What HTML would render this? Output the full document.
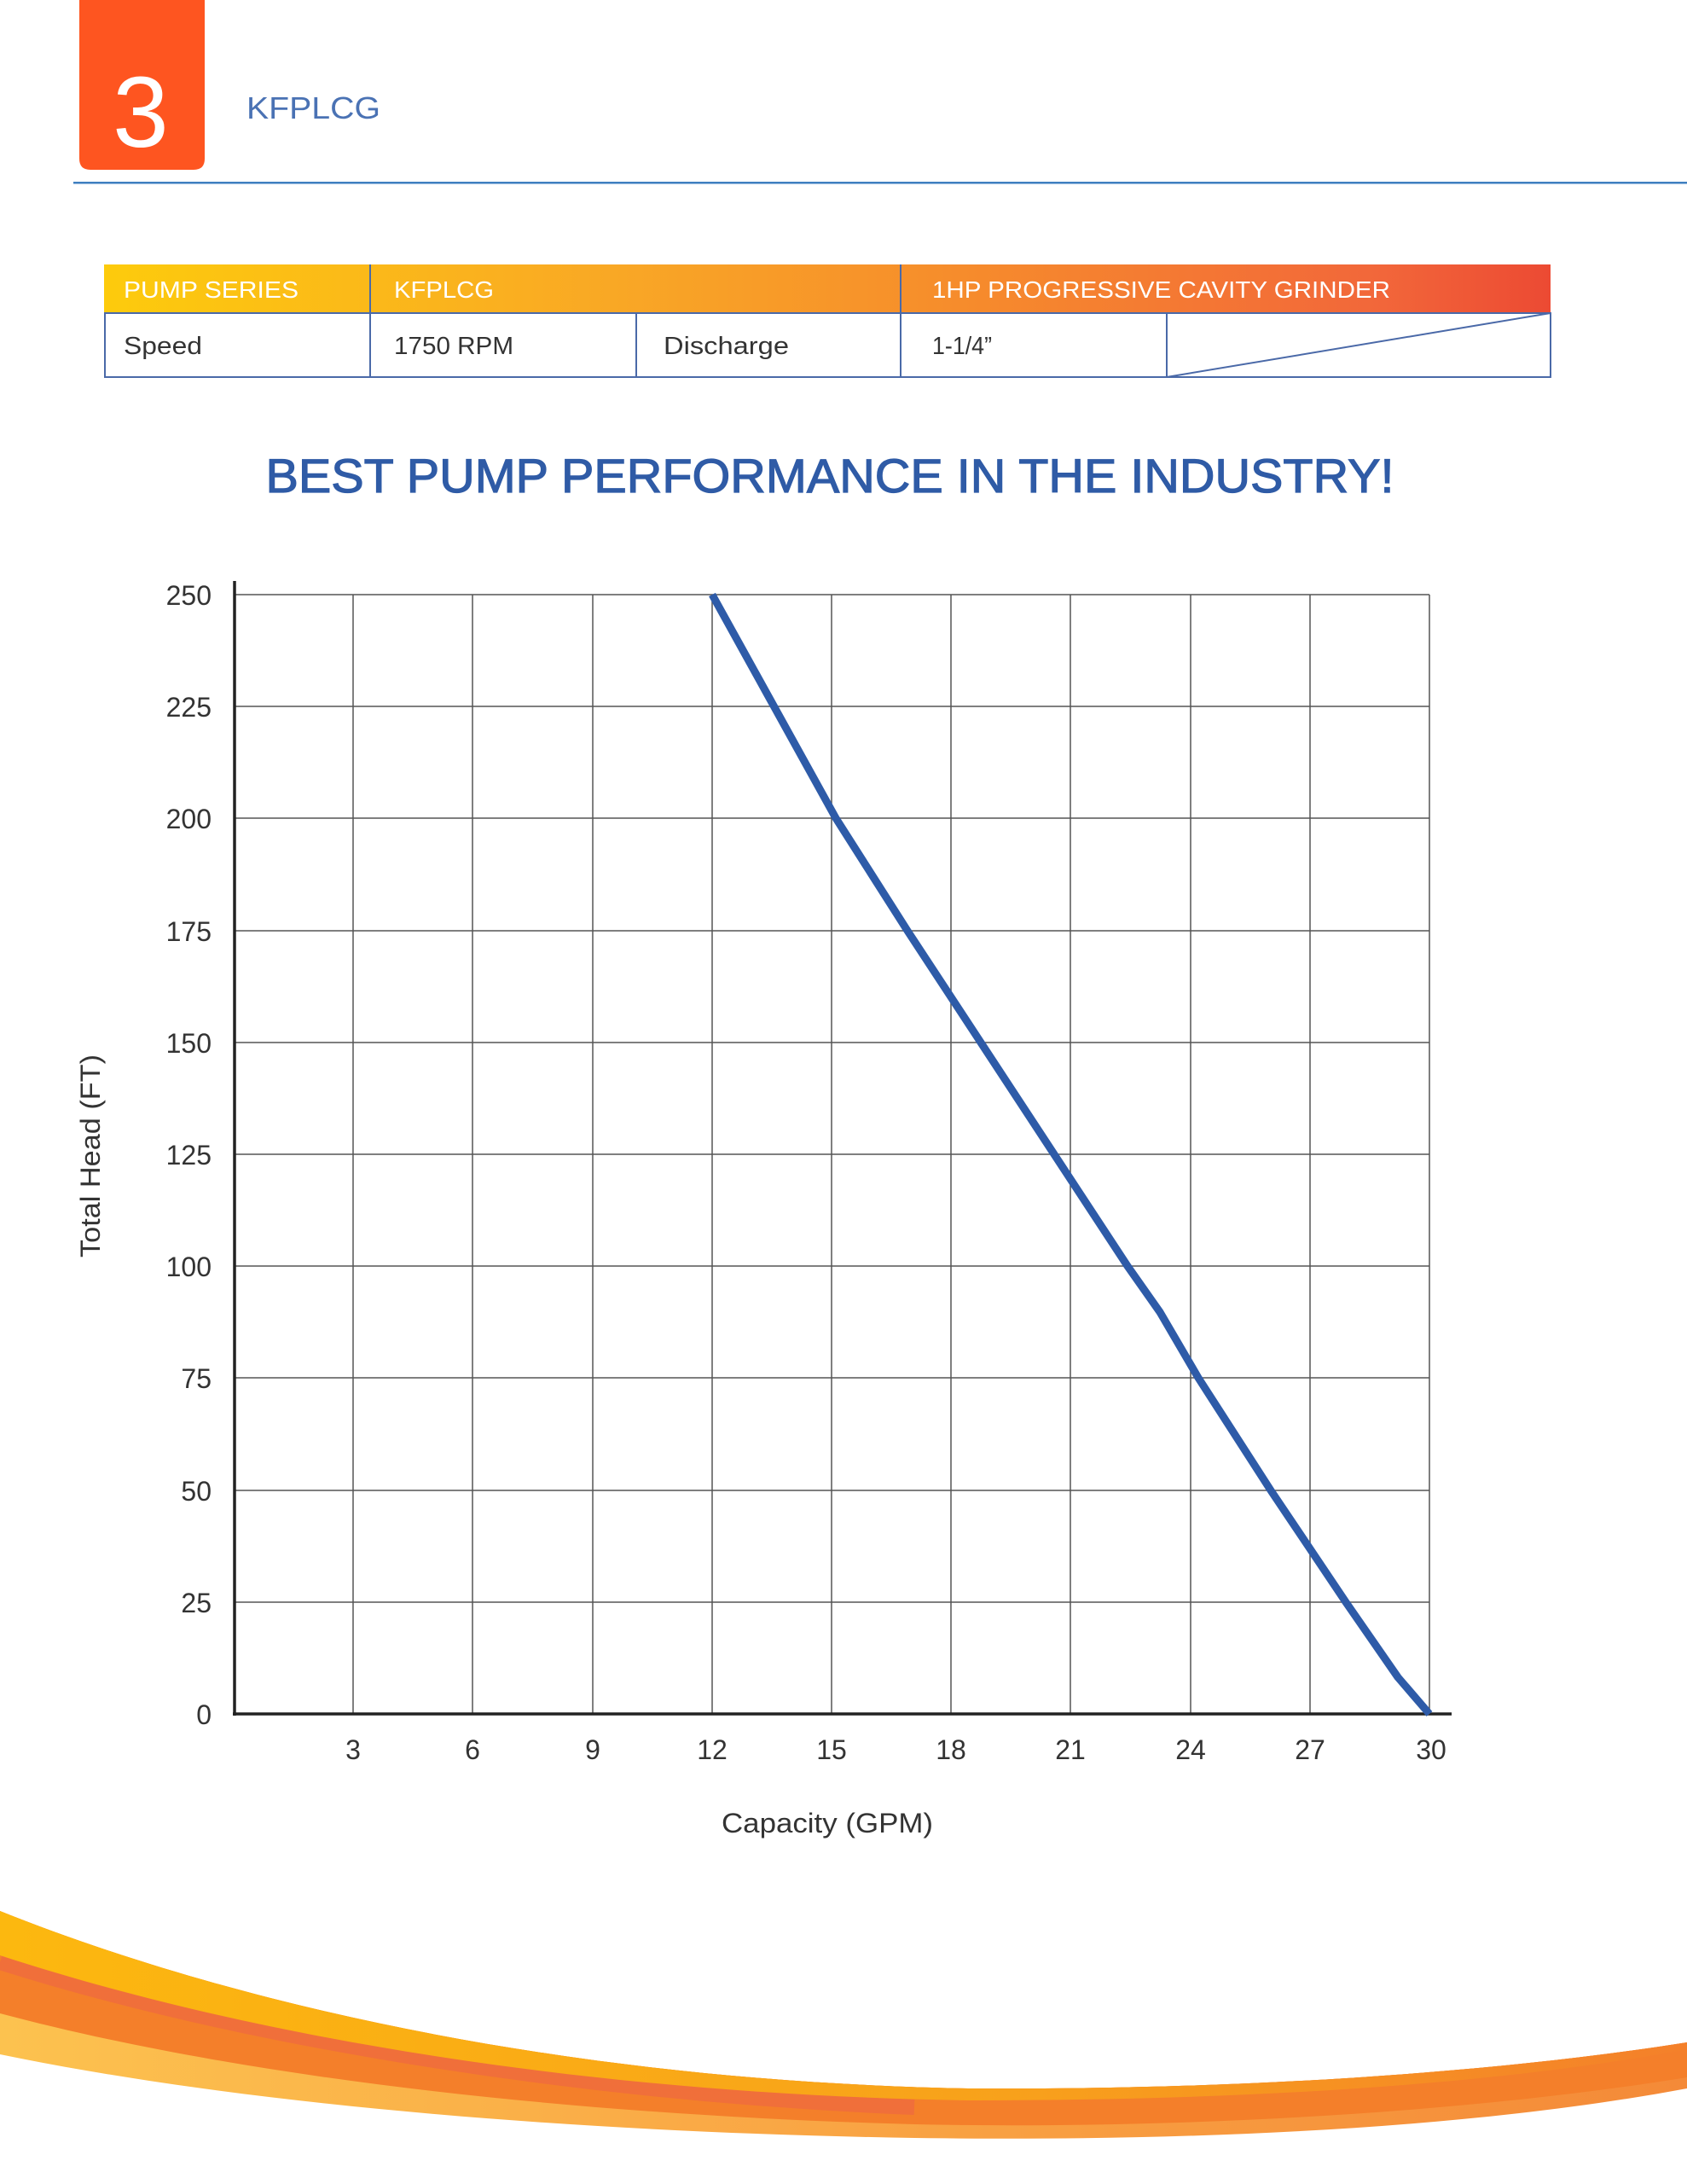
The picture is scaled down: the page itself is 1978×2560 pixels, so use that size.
<!DOCTYPE html>
<html><head><meta charset="utf-8"><style>
html,body{margin:0;padding:0;background:#fff}
svg{display:block}
text{font-family:"Liberation Sans",sans-serif}
</style></head><body>
<svg width="1978" height="2560" viewBox="0 0 1978 2560" xmlns="http://www.w3.org/2000/svg">
<defs>
<linearGradient id="hg" x1="0" x2="1" y1="0" y2="0">
<stop offset="0" stop-color="#fdcb0c"/><stop offset="0.35" stop-color="#f9a825"/><stop offset="0.6" stop-color="#f68b2c"/><stop offset="0.88" stop-color="#f2673a"/><stop offset="1" stop-color="#ec4a33"/>
</linearGradient>
<linearGradient id="y1" x1="0" x2="1"><stop offset="0" stop-color="#fcb80f"/><stop offset="0.6" stop-color="#f8a11b"/><stop offset="1" stop-color="#f4802a"/></linearGradient>
<linearGradient id="y3" x1="0" x2="1"><stop offset="0" stop-color="#fcc24f"/><stop offset="0.5" stop-color="#f9a544"/><stop offset="1" stop-color="#f48a38"/></linearGradient>
</defs>
<path d="M93 0 H240 V186 Q240 199 227 199 H106 Q93 199 93 186 Z" fill="#fe5520"/>
<text x="165" y="172" font-size="118" fill="#fff" text-anchor="middle">3</text>
<text x="289" y="139" font-size="36" fill="#4a72b4" textLength="157" lengthAdjust="spacingAndGlyphs">KFPLCG</text>
<rect x="86" y="213" width="1892" height="2.5" fill="#3f7fc0"/>
<rect x="122" y="310" width="1696" height="57" fill="url(#hg)"/>
<g fill="none" stroke="#4a69a8" stroke-width="2">
<rect x="123" y="367" width="1695" height="75"/>
<line x1="434" y1="310" x2="434" y2="442"/>
<line x1="1056" y1="310" x2="1056" y2="442"/>
<line x1="746" y1="367" x2="746" y2="442"/>
<line x1="1368" y1="367" x2="1368" y2="442"/>
<line x1="1368" y1="442" x2="1818" y2="367"/>
</g>
<g font-size="28" fill="#fff">
<text x="145" y="349" textLength="205" lengthAdjust="spacingAndGlyphs">PUMP SERIES</text>
<text x="462" y="349" textLength="117" lengthAdjust="spacingAndGlyphs">KFPLCG</text>
<text x="1093" y="349" textLength="537" lengthAdjust="spacingAndGlyphs">1HP PROGRESSIVE CAVITY GRINDER</text>
</g>
<g font-size="29" fill="#333">
<text x="145" y="415" textLength="92" lengthAdjust="spacingAndGlyphs">Speed</text>
<text x="462" y="415" textLength="140" lengthAdjust="spacingAndGlyphs">1750 RPM</text>
<text x="778" y="415" textLength="147" lengthAdjust="spacingAndGlyphs">Discharge</text>
<text x="1093" y="415" textLength="70" lengthAdjust="spacingAndGlyphs">1-1/4”</text>
</g>
<text x="973" y="577" font-size="56" fill="#2f5ba6" stroke="#2f5ba6" stroke-width="1.2" text-anchor="middle" textLength="1323" lengthAdjust="spacingAndGlyphs">BEST PUMP PERFORMANCE IN THE INDUSTRY!</text>
<g stroke="#555" stroke-width="1.5">
<line x1="274" y1="697" x2="1676" y2="697"/>
<line x1="274" y1="828" x2="1676" y2="828"/>
<line x1="274" y1="959" x2="1676" y2="959"/>
<line x1="274" y1="1091" x2="1676" y2="1091"/>
<line x1="274" y1="1222" x2="1676" y2="1222"/>
<line x1="274" y1="1353" x2="1676" y2="1353"/>
<line x1="274" y1="1484" x2="1676" y2="1484"/>
<line x1="274" y1="1615" x2="1676" y2="1615"/>
<line x1="274" y1="1747" x2="1676" y2="1747"/>
<line x1="274" y1="1878" x2="1676" y2="1878"/>
<line x1="414" y1="697" x2="414" y2="2009"/>
<line x1="554" y1="697" x2="554" y2="2009"/>
<line x1="695" y1="697" x2="695" y2="2009"/>
<line x1="835" y1="697" x2="835" y2="2009"/>
<line x1="975" y1="697" x2="975" y2="2009"/>
<line x1="1115" y1="697" x2="1115" y2="2009"/>
<line x1="1255" y1="697" x2="1255" y2="2009"/>
<line x1="1396" y1="697" x2="1396" y2="2009"/>
<line x1="1536" y1="697" x2="1536" y2="2009"/>
<line x1="1676" y1="697" x2="1676" y2="2009"/>
</g>
<g stroke="#222" stroke-width="3.5">
<line x1="275" y1="681" x2="275" y2="2011"/>
<line x1="273" y1="2009" x2="1702" y2="2009"/>
</g>
<polyline fill="none" stroke="#2e5ba8" stroke-width="9" stroke-linejoin="round"
points="835,697 980,959 1064,1091 1150,1222 1236,1353 1322,1484 1360,1538 1405,1615 1490,1747 1578,1878 1639,1966 1676,2009"/>
<g font-size="32" fill="#333" text-anchor="end">
<text x="248" y="709">250</text><text x="248" y="840">225</text><text x="248" y="971">200</text>
<text x="248" y="1103">175</text><text x="248" y="1234">150</text><text x="248" y="1365">125</text>
<text x="248" y="1496">100</text><text x="248" y="1627">75</text><text x="248" y="1759">50</text>
<text x="248" y="1890">25</text><text x="248" y="2021">0</text>
</g>
<g font-size="32" fill="#333" text-anchor="middle">
<text x="414" y="2062">3</text><text x="554" y="2062">6</text><text x="695" y="2062">9</text>
<text x="835" y="2062">12</text><text x="975" y="2062">15</text><text x="1115" y="2062">18</text>
<text x="1255" y="2062">21</text><text x="1396" y="2062">24</text><text x="1536" y="2062">27</text>
<text x="1678" y="2062">30</text>
</g>
<text transform="translate(117,1355) rotate(-90)" font-size="32" fill="#333" text-anchor="middle" textLength="238" lengthAdjust="spacingAndGlyphs">Total Head (FT)</text>
<text x="970" y="2148" font-size="32" fill="#333" text-anchor="middle" textLength="248" lengthAdjust="spacingAndGlyphs">Capacity (GPM)</text>
<path d="M0 2240 C300 2360 700 2440 1135 2448 C1450 2450 1750 2430 1978 2394 L1978 2448 C1700 2500 1350 2510 1072 2506 C700 2500 300 2470 0 2408 Z" fill="url(#y3)"/>
<path d="M0 2240 C300 2360 700 2440 1135 2448 C1450 2450 1750 2430 1978 2394 L1978 2435 C1700 2480 1350 2496 1072 2490 C700 2480 300 2440 0 2360 Z" fill="#f47f2a"/>
<path d="M0 2300 C300 2395 700 2455 1072 2470" fill="none" stroke="#ef6b3e" stroke-width="18" opacity="0.8"/>
<path d="M0 2240 C300 2360 700 2440 1135 2448 C1450 2450 1750 2430 1978 2394 L1978 2402 C1750 2445 1450 2462 1135 2462 C700 2455 300 2390 0 2292 Z" fill="url(#y1)"/>
</svg>
</body></html>
